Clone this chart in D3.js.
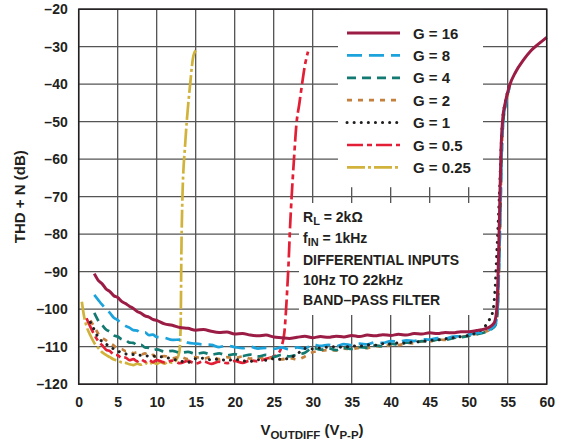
<!DOCTYPE html>
<html>
<head>
<meta charset="utf-8">
<script src="https://cdn.jsdelivr.net/npm/d3@7"></script>
<style>
  body { margin: 0; background: #fff; }
  text { font-family: "Liberation Sans", Arial, sans-serif; font-weight: bold; fill: #231f20; }
</style>
</head>
<body>
<div id="chartContainer"></div>
<script>
// series values, [V, dB]
var g16 = [[2,-90.5],[2.5,-92.3],[3,-93.2],[3.5,-94.6],[4,-95.3],[4.5,-96.4],[5,-96.9],[5.5,-97.9],[6,-98.5],[6.5,-99.2],[7,-99.8],[7.5,-100.6],[8,-101.1],[8.5,-101.8],[9,-102.1],[9.5,-102.7],[10,-103],[11,-103.9],[12,-104.3],[13,-104.9],[14,-105.1],[15,-105.6],[16,-105.4],[17,-105.9],[18,-106.2],[19,-106.1],[20,-106.6],[21,-106.5],[22,-106.9],[23,-107.1],[24,-106.9],[25,-107.4],[26,-107.6],[27,-107.8],[28,-107.5],[29,-107.2],[30,-107.6],[31,-107.3],[32,-107.5],[33,-107.2],[34,-107.4],[35,-107],[36,-107.3],[37,-106.9],[38,-107.1],[39,-106.8],[40,-107],[41,-106.7],[42,-106.9],[43,-106.5],[44,-106.6],[45,-106.3],[46,-106.5],[47,-106.2],[48,-106.3],[49,-106],[50,-106],[51,-105.7],[52,-105.3],[52.8,-104.6],[53.3,-103.5],[53.6,-100],[53.8,-88],[54,-70],[54.15,-57],[54.35,-49.5],[54.7,-44.8],[55.2,-40.6],[56,-36.8],[57,-33.6],[58,-31],[59,-29.2],[60,-27.5]];
var g8 = [[2,-96.2],[2.5,-97.5],[3,-98.8],[3.5,-100],[4,-101],[4.5,-102.3],[5,-102.9],[5.5,-103.9],[6,-104.5],[6.5,-104.9],[7,-105.6],[7.5,-105.7],[8,-106.4],[8.5,-106.2],[9,-106.9],[9.5,-106.8],[10,-107.4],[11,-107.6],[12,-108.2],[13,-108.1],[14,-108.9],[15,-109.2],[16,-109.4],[17,-109.5],[18,-110.1],[19,-109.7],[20,-110.1],[21,-110.4],[22,-110],[23,-110.5],[24,-110.3],[25,-110.6],[26,-110.2],[27,-110.7],[28,-110.2],[29,-110.5],[30,-109.4],[31,-109.8],[32,-109.5],[33,-109.9],[34,-109.3],[35,-109.6],[36,-109.2],[37,-109.4],[38,-108.8],[39,-109],[40,-108.5],[41,-108.7],[42,-108.3],[43,-108.5],[44,-108],[45,-108.1],[46,-107.7],[47,-107.8],[48,-107.3],[49,-107.2],[50,-106.8],[51,-106.4],[52,-106],[52.8,-105.3],[53.4,-104.2],[53.7,-100],[53.9,-88],[54.1,-70],[54.25,-57],[54.45,-49.5],[54.8,-44.8],[55.2,-41]];
var g4 = [[2,-101],[2.5,-103],[3,-104.2],[3.5,-105.4],[4,-106],[4.5,-107],[5,-107.3],[5.5,-108],[6,-108.2],[6.5,-108.9],[7,-109],[7.5,-109.6],[8,-109.5],[8.5,-110.2],[9,-110.3],[9.5,-110.9],[10,-110.7],[11,-111.3],[12,-111.1],[13,-111.6],[14,-111.4],[15,-111.9],[16,-111.6],[17,-112.1],[18,-111.8],[19,-112.3],[20,-112],[21,-112.5],[22,-112.1],[23,-112.6],[24,-112.2],[25,-112.7],[26,-112.2],[27,-112.6],[28,-112.1],[29,-111.6],[30,-110.3],[31,-110.8],[32,-110.4],[33,-110.9],[34,-110.3],[35,-110.6],[36,-110.1],[37,-110.3],[38,-109.7],[39,-109.9],[40,-109.2],[41,-109.4],[42,-108.9],[43,-109],[44,-108.5],[45,-108.6],[46,-108.1],[47,-108.2],[48,-107.7],[49,-107.5],[50,-107.1],[51,-106.7],[52,-106.2],[52.8,-105.5],[53.4,-104.4],[53.7,-100.5],[53.9,-88],[54.1,-70],[54.25,-57],[54.45,-49.5],[54.8,-44.8],[55.2,-41]];
var g2 = [[1.5,-103],[2,-104.7],[2.5,-106.5],[3,-107.6],[3.5,-108.3],[4,-109.1],[4.5,-109.7],[5,-110.5],[5.5,-110.6],[6,-111.2],[6.5,-111.1],[7,-111.7],[7.5,-111.5],[8,-112.1],[8.5,-111.8],[9,-112.5],[9.5,-112.2],[10,-112.8],[11,-112.5],[12,-113.1],[13,-112.7],[14,-113.3],[15,-112.8],[16,-113.2],[17,-112.7],[18,-113.3],[19,-112.8],[20,-113.1],[21,-112.6],[22,-113.2],[23,-112.8],[24,-113.3],[25,-112.9],[26,-113.4],[27,-113],[28,-113.4],[29,-112.6],[30,-111.5],[31,-111.1],[32,-110.9],[33,-111],[34,-110.5],[35,-110.7],[36,-110.3],[37,-110.4],[38,-109.8],[39,-110],[40,-109.5],[41,-109.6],[42,-109],[43,-109.1],[44,-108.6],[45,-108.6],[46,-108.1],[47,-108.2],[48,-107.6],[49,-107.4],[50,-107],[51,-106.6],[52,-106.1],[52.8,-105.4],[53.4,-104.3],[53.7,-100.2],[53.9,-88],[54.1,-70],[54.25,-57],[54.45,-49.5],[54.8,-44.8],[55.2,-41]];
var g1 = [[1.5,-103.5],[2,-105.5],[2.5,-107.5],[3,-108.6],[3.5,-109.3],[4,-110],[4.5,-110.6],[5,-111.2],[5.5,-111.5],[6,-111.9],[7,-112.1],[8,-112.3],[9,-112.5],[10,-112.6],[11,-112.8],[12,-113.3],[13,-113.8],[14,-114.2],[15,-113.2],[16,-113.1],[17,-113.5],[18,-113.3],[19,-113.7],[20,-113.4],[21,-113.8],[22,-113.9],[23,-113.5],[24,-113.6],[25,-113.2],[26,-113.4],[27,-113],[28,-112],[29,-110.5],[30,-110.6],[31,-110.3],[32,-110.1],[33,-110],[34,-110.2],[35,-109.8],[36,-109.9],[37,-109.5],[38,-109.6],[39,-109.2],[40,-109.3],[41,-109],[42,-109],[43,-108.7],[44,-108.6],[45,-108.3],[46,-108.2],[47,-107.9],[48,-107.6],[49,-107.3],[50,-107],[51,-106.2],[52,-104.8],[52.6,-103],[53.1,-100.5],[53.4,-94],[53.6,-85],[53.8,-76],[54,-66],[54.15,-57],[54.35,-49.5],[54.7,-44.8],[55.2,-40.6]];
var g05 = [[1,-102.4],[1.5,-104.7],[2,-106.8],[2.5,-108.5],[3,-109.6],[3.5,-110.8],[4,-111.2],[4.5,-112.1],[5,-112.3],[5.5,-113],[6,-112.9],[6.5,-113.6],[7,-113.3],[7.5,-113.9],[8,-113.4],[8.5,-114],[9,-113.5],[9.5,-114.1],[10,-113.6],[11,-114.2],[12,-113.7],[13,-114.4],[14,-113.8],[15,-114.5],[16,-113.9],[17,-114.6],[18,-114],[19,-114.4],[20,-113.8],[21,-114.3],[22,-113.7],[23,-113.9],[24,-113.2],[25,-112.6],[25.5,-112],[26,-110],[26.4,-105.5],[26.7,-96],[26.9,-88],[27.1,-78],[27.3,-70],[27.6,-60],[27.9,-51],[28.3,-45],[28.6,-40.5],[29,-35],[29.4,-31.3]];
var g025 = [[0.4,-98],[0.7,-102],[1,-104.5],[1.5,-107],[2,-109],[2.5,-110.3],[3,-111.5],[3.5,-112.2],[4,-112.8],[4.5,-113.4],[5,-113.7],[5.5,-114.2],[6,-114.3],[6.5,-114.7],[7,-114.9],[7.5,-114.5],[8,-114.8],[8.5,-114.3],[9,-114.7],[9.5,-114.2],[10,-114.6],[10.5,-114.1],[11,-114.5],[11.5,-114],[12,-114.3],[12.5,-113.6],[12.9,-111.5],[13,-109],[13.1,-100],[13.15,-88],[13.3,-70],[13.45,-62],[13.6,-57.5],[13.85,-50],[14.1,-44],[14.3,-39.8],[14.5,-35.5],[14.7,-32.5],[15,-31]];

var legendLabels = ["G = 16", "G = 8", "G = 4", "G = 2", "G = 1", "G = 0.5", "G = 0.25"];
var xTicks = [0, 5, 10, 15, 20, 25, 30, 35, 40, 45, 50, 55, 60];
var yTicks = [-20, -30, -40, -50, -60, -70, -80, -90, -100, -110, -120];
var noteLines = ["DIFFERENTIAL INPUTS", "10Hz TO 22kHz", "BAND\u2013PASS FILTER"];

var seriesList = [
  { label: "G = 16",   data: g16,  color: "#9b1c45", dash: null,         width: 3 },
  { label: "G = 8",    data: g8,   color: "#1ca3dc", dash: "15,7",       width: 2.7 },
  { label: "G = 4",    data: g4,   color: "#137a72", dash: "9,6",        width: 2.7 },
  { label: "G = 2",    data: g2,   color: "#c4803c", dash: "5,6",        width: 2.7 },
  { label: "G = 1",    data: g1,   color: "#231f20", dash: "0.1,7",      width: 3, cap: "round" },
  { label: "G = 0.5",  data: g05,  color: "#e21f35", dash: "16,4,5,4",   width: 2.7 },
  { label: "G = 0.25", data: g025, color: "#d1b33c", dash: "18,3,3,3",   width: 2.7 }
];

var chartW = 564, chartH = 446;
var plotL = 78.7, plotR = 546.7, plotT = 9.2, plotB = 384.2;

var svg = d3.select("#chartContainer")
  .append("svg")
    .attr("width", chartW)
    .attr("height", chartH);

var x = d3.scaleLinear().domain([0, 60]).range([plotL, plotR]);
var y = d3.scaleLinear().domain([-120, -20]).range([plotB, plotT]);

// grid
svg.append("g")
  .selectAll("line")
  .data(xTicks)
  .enter().append("line")
    .attr("x1", function(d) { return x(d); })
    .attr("x2", function(d) { return x(d); })
    .attr("y1", plotT).attr("y2", plotB)
    .attr("stroke", "#444").attr("stroke-width", 1.2);
svg.append("g")
  .selectAll("line")
  .data(yTicks)
  .enter().append("line")
    .attr("x1", plotL).attr("x2", plotR)
    .attr("y1", function(d) { return y(d); })
    .attr("y2", function(d) { return y(d); })
    .attr("stroke", "#555").attr("stroke-width", 1.2);

// white boxes behind legend and note
svg.append("rect").attr("x", 338).attr("y", plotT).attr("width", 145).attr("height", 178).attr("fill", "#fff");
svg.append("rect").attr("x", 299).attr("y", 203).attr("width", 184).attr("height", 112).attr("fill", "#fff");

// lines
var line = d3.line()
  .x(function(d) { return x(d[0]); })
  .y(function(d) { return y(d[1]); })
  .curve(d3.curveMonotoneX);

var drawOrder = [6, 5, 3, 2, 1, 4, 0];
drawOrder.forEach(function(i) {
  var s = seriesList[i];
  svg.append("path")
    .datum(s.data)
    .attr("fill", "none")
    .attr("stroke", s.color)
    .attr("stroke-width", s.width)
    .attr("stroke-dasharray", s.dash)
    .attr("stroke-linecap", s.cap || "butt")
    .attr("stroke-linejoin", "round")
    .attr("d", line);
});

// frame
svg.append("rect")
  .attr("x", plotL).attr("y", plotT)
  .attr("width", plotR - plotL).attr("height", plotB - plotT)
  .attr("fill", "none").attr("stroke", "#231f20").attr("stroke-width", 1.5);

// axes
var fmt = function(d) { return String(d).replace("-", "\u2013"); };
var yAxis = svg.append("g")
  .attr("transform", "translate(" + plotL + ",0)")
  .call(d3.axisLeft(y).tickValues(yTicks).tickSize(0).tickPadding(11).tickFormat(fmt));
yAxis.select(".domain").remove();
yAxis.selectAll("text").style("font-size", "14px").style("font-family", "Liberation Sans, Arial, sans-serif").attr("fill", "#231f20");

var xAxis = svg.append("g")
  .attr("transform", "translate(0," + plotB + ")")
  .call(d3.axisBottom(x).tickValues(xTicks).tickSize(0).tickPadding(13));
xAxis.select(".domain").remove();
xAxis.selectAll("text").style("font-size", "14px").style("font-family", "Liberation Sans, Arial, sans-serif").attr("fill", "#231f20");

// axis titles
svg.append("text")
  .attr("transform", "translate(25," + ((plotT + plotB) / 2) + ") rotate(-90)")
  .attr("text-anchor", "middle")
  .style("font-size", "15px")
  .text("THD + N (dB)");

var xt = svg.append("text")
  .attr("x", 312).attr("y", 435)
  .attr("text-anchor", "middle")
  .style("font-size", "15px");
xt.append("tspan").text("V");
xt.append("tspan").attr("dy", 4).style("font-size", "11.5px").text("OUTDIFF");
xt.append("tspan").attr("dy", -4).text(" (V");
xt.append("tspan").attr("dy", 4).style("font-size", "11.5px").text("P-P");
xt.append("tspan").attr("dy", -4).text(")");

// legend
var legend = svg.append("g");
seriesList.forEach(function(s, i) {
  var ly = 33 + i * 22.4;
  legend.append("line")
    .attr("x1", 347).attr("x2", 400)
    .attr("y1", ly).attr("y2", ly)
    .attr("stroke", s.color)
    .attr("stroke-width", s.width)
    .attr("stroke-dasharray", s.dash)
    .attr("stroke-linecap", s.cap || "butt");
  legend.append("text")
    .attr("x", 413).attr("y", ly + 5.5)
    .style("font-size", "15px")
    .text(legendLabels[i]);
});

// note
var note = svg.append("g").style("font-size", "14px");
var t1 = note.append("text").attr("x", 303).attr("y", 222);
t1.append("tspan").text("R");
t1.append("tspan").attr("dy", 3).style("font-size", "11px").text("L");
t1.append("tspan").attr("dy", -3).text(" = 2k\u03a9");
var t2 = note.append("text").attr("x", 303).attr("y", 243);
t2.append("tspan").text("f");
t2.append("tspan").attr("dy", 3).style("font-size", "11px").text("IN");
t2.append("tspan").attr("dy", -3).text(" = 1kHz");
noteLines.forEach(function(t, i) {
  note.append("text").attr("x", 303).attr("y", 264.5 + i * 20).text(t);
});
</script>
</body>
</html>
